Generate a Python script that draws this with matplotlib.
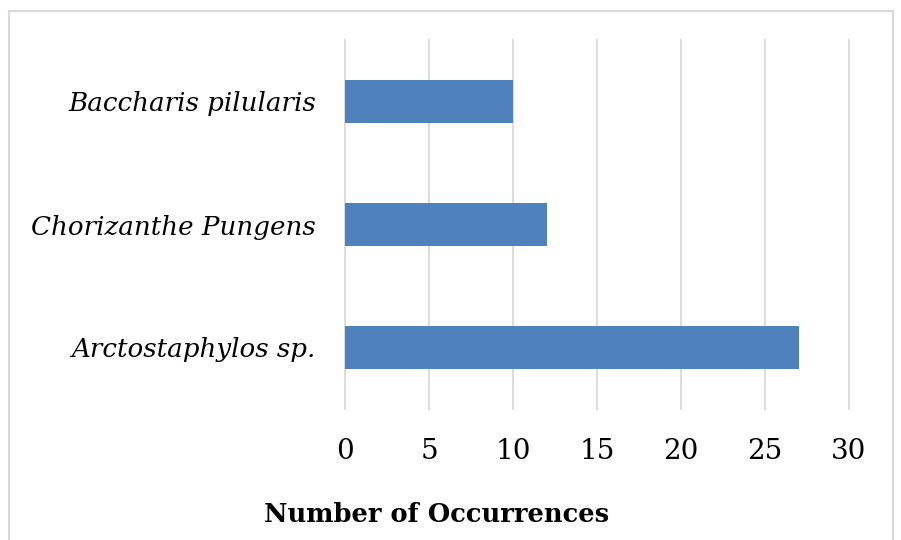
import matplotlib.pyplot as plt
from matplotlib.patches import Rectangle

# === Дані ===
species = ["Arctostaphylos sp.", "Chorizanthe Pungens", "Baccharis pilularis"]
occurrences = [27, 12, 10]
x_ticks = [0, 5, 10, 15, 20, 25, 30]

W, H = 901, 540
fig = plt.figure(figsize=(W / 100, H / 100), dpi=100)
ax = fig.add_axes([345 / W, 1 - 409 / H, (849 - 345) / W, 369 / H])

ax.barh(range(len(species)), occurrences, height=0.35, color="#4F81BD", zorder=3)
ax.set_xlim(0, 30)
ax.set_ylim(-0.5, 2.5)
ax.set_xticks(x_ticks)
ax.set_xticklabels([str(t) for t in x_ticks], family="DejaVu Serif", fontsize=20)
ax.set_yticks(range(len(species)))
ax.set_yticklabels(species, family="DejaVu Serif", style="italic", fontsize=18.8)
ax.tick_params(axis="both", length=0)
ax.tick_params(axis="x", pad=21)
ax.tick_params(axis="y", pad=21)
ax.grid(axis="x", color="#D9D9D9", linewidth=1.3, zorder=0)
for gl in ax.get_xgridlines():
    gl.set_clip_on(False)
for s in ax.spines.values():
    s.set_visible(False)

fig.text(437 / W, 1 - 514 / H, "Number of Occurrences", ha="center", va="center",
         family="DejaVu Serif", weight="bold", fontsize=18.5)

# рамка навколо діаграми
fig.patches.append(Rectangle((9 / W, -0.01), (893 - 9) / W, 1 - 11 / H + 0.01,
                             transform=fig.transFigure, fill=False,
                             edgecolor="#D9D9D9", linewidth=1.5))

fig.savefig("out.png", dpi=100)
